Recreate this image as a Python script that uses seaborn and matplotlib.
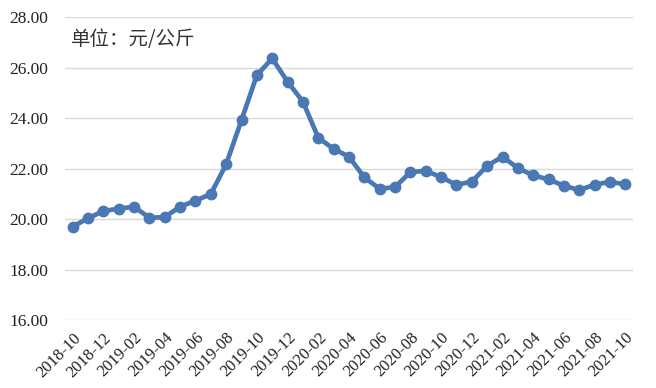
import numpy as np
import pandas as pd
import matplotlib.pyplot as plt
import seaborn as sns

# Monthly price, yuan/kg, 2018-10 .. 2021-10
months = pd.period_range("2018-10", "2021-10", freq="M").strftime("%Y-%m").tolist()
prices = [19.70, 20.03, 20.32, 20.41, 20.49, 20.05, 20.08, 20.49, 20.73, 20.99,
          22.17, 23.92, 25.70, 26.36, 25.44, 24.65, 23.22, 22.78, 22.47, 21.65,
          21.20, 21.27, 21.86, 21.91, 21.66, 21.36, 21.48, 22.11, 22.47, 22.02,
          21.73, 21.57, 21.32, 21.15, 21.36, 21.48, 21.37]
y_ticks = [16, 18, 20, 22, 24, 26, 28]

df = pd.DataFrame({"month": months, "price": prices})
df["pos"] = np.arange(len(df))

sns.set_style("white")
plt.rcParams["font.family"] = ["Liberation Serif", "DejaVu Serif"]

fig = plt.figure(figsize=(6.56, 3.88), dpi=100)
ax = fig.add_axes([0.099, 0.175, 0.866, 0.781])

sns.lineplot(data=df, x="pos", y="price", ax=ax, color="#4a78b4", linewidth=3.4,
             marker="o", markersize=8.5, markeredgewidth=0, zorder=3)

ax.set_xlim(-0.5, len(df) - 0.5)
ax.set_ylim(16, 28)
ax.set_yticks(y_ticks)
ax.set_yticklabels([f"{v:.2f}" for v in y_ticks], fontsize=12.5)
ax.tick_params(axis="y", pad=12)
ax.set_xticks(df["pos"][::2])
ax.set_xticklabels(df["month"][::2], rotation=45, ha="right", rotation_mode="anchor", fontsize=12)
ax.tick_params(axis="x", pad=7)
ax.tick_params(axis="both", length=0, colors="#222222")
ax.grid(axis="y", color="#d9d9d9", linewidth=1)
ax.set_xlabel("")
ax.set_ylabel("")
sns.despine(ax=ax, left=True, bottom=True)

ax.text(0.01, 0.925, "单位：元/公斤", transform=ax.transAxes, fontsize=14,
        family=["Noto Sans CJK SC", "DejaVu Sans"], color="#333333", va="center")

fig.savefig("out.png", dpi=100)
